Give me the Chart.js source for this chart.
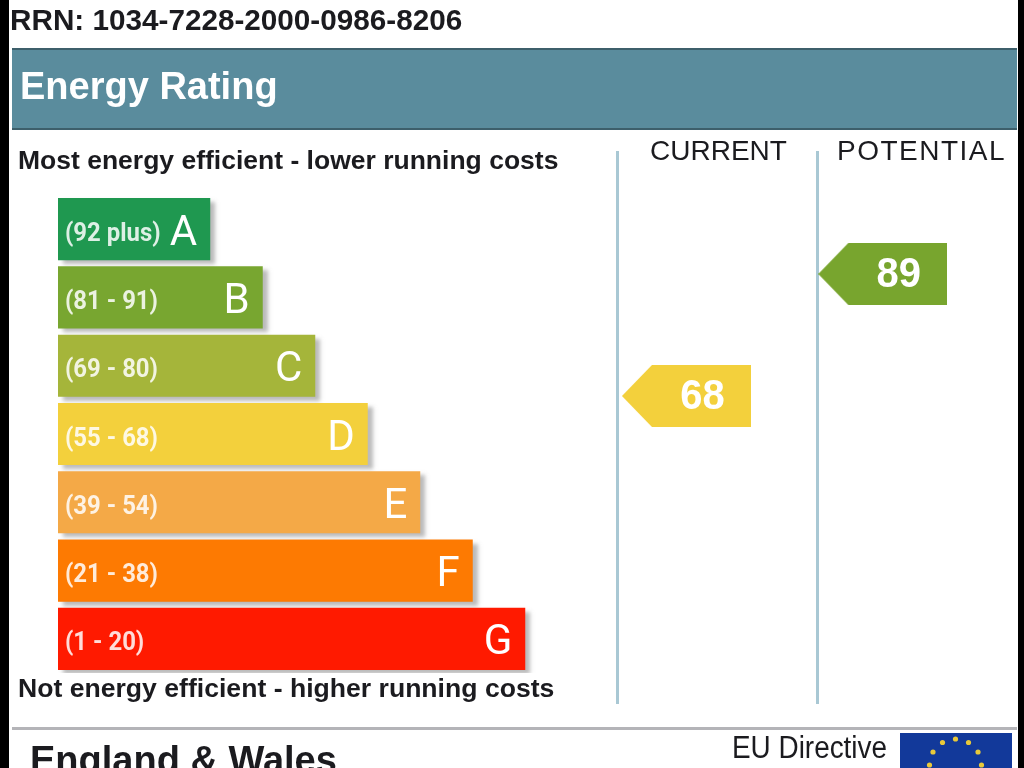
<!DOCTYPE html>
<html>
<head>
<meta charset="utf-8">
<title>Energy Rating</title>
<script src="https://cdn.jsdelivr.net/npm/chart.js@4"></script>
<style>
  html, body { margin: 0; padding: 0; width: 1024px; height: 768px; overflow: hidden; background: #000; }
  #page { position: absolute; left: 9px; top: 0; width: 1009px; height: 768px; background: #fff; overflow: hidden; }
  #header { position: absolute; left: 12px; top: 48px; width: 1005px; height: 82px; background: #5a8c9d;
    border-top: 2px solid #3d5f6b; border-bottom: 2px solid #3d5f6b; box-sizing: border-box; }
  #chart { position: absolute; left: 0; top: 0; }
  .t { position: absolute; font-family: "Liberation Sans", Arial, sans-serif; white-space: nowrap; color: #1b1b1f; line-height: 1; }
  .b { font-weight: bold; }
  .rule { position: absolute; top: 151px; width: 3px; height: 553px; background: #a9c8d4; }
  #footline { position: absolute; left: 12px; top: 727px; width: 1005px; height: 3px; background: #b4b4b8; }
  #flag { position: absolute; left: 900px; top: 733px; }
  #wrap { position: absolute; left: 0; top: 0; width: 1024px; height: 768px; filter: blur(0.5px); }
</style>
</head>
<body>
<div id="wrap">
<div id="page"></div>
<div id="header"></div>
<div id="footline"></div>
<div class="rule" style="left:616px"></div>
<div class="rule" style="left:816px"></div>
<canvas id="chart" width="1024" height="768"></canvas>

<div class="t b" style="left:10px;top:5px;font-size:29.7px">RRN: 1034-7228-2000-0986-8206</div>
<div class="t b" style="left:20px;top:67px;font-size:38px;color:#fff">Energy Rating</div>
<div class="t b" style="left:18px;top:147px;font-size:26.5px">Most energy efficient - lower running costs</div>
<div class="t b" style="left:18px;top:675px;font-size:26.6px">Not energy efficient - higher running costs</div>
<div class="t" style="left:650px;top:137px;font-size:28px">CURRENT</div>
<div class="t" style="left:837px;top:137px;font-size:28px;letter-spacing:1.5px">POTENTIAL</div>
<div class="t b" style="left:30px;top:741px;font-size:38px">England &amp; Wales</div>
<div class="t" style="left:732px;top:732px;font-size:31px;transform:scaleX(0.9);transform-origin:left top">EU Directive</div>
<svg id="flag" width="112" height="35"></svg>
</div>

<script>
const bands = ["A", "B", "C", "D", "E", "F", "G"];
const ranges = ["(92 plus)", "(81 - 91)", "(69 - 80)", "(55 - 68)", "(39 - 54)", "(21 - 38)", "(1 - 20)"];
const bandLengths = [29, 39, 49, 59, 69, 79, 89];
const bandColors = ["#1f9850", "#78a630", "#a5b53a", "#f3d03c", "#f4a947", "#fd7a02", "#ff1a00"];
const currentRating = [68];
const potentialRating = [89];
const columnLabels = ["CURRENT", "POTENTIAL"];

// arrow flag used as the point style, tip on the left
function arrowImage(color) {
  const c = document.createElement("canvas");
  c.width = 129;
  c.height = 62;
  const g = c.getContext("2d");
  g.fillStyle = color;
  g.beginPath();
  g.moveTo(0, 31);
  g.lineTo(30, 0);
  g.lineTo(129, 0);
  g.lineTo(129, 62);
  g.lineTo(30, 62);
  g.closePath();
  g.fill();
  return c;
}

const barShadow = {
  id: "barShadow",
  beforeDatasetDraw(chart, args) {
    if (args.index !== 0) return;
    const ctx = chart.ctx;
    ctx.save();
    ctx.shadowColor = "rgba(120,120,120,0.5)";
    ctx.shadowBlur = 4;
    ctx.shadowOffsetX = 5;
    ctx.shadowOffsetY = 4;
  },
  afterDatasetDraw(chart, args) {
    if (args.index === 0) chart.ctx.restore();
  },
};

// squeezed text, the source letters are taller than they are wide
function narrowText(ctx, text, x, y, squeeze) {
  ctx.save();
  ctx.translate(x, y);
  ctx.scale(squeeze, 1);
  ctx.fillText(text, 0, 0);
  ctx.restore();
}

const markText = {
  id: "markText",
  afterDatasetsDraw(chart) {
    const ctx = chart.ctx;
    ctx.save();
    ctx.textBaseline = "middle";
    chart.getDatasetMeta(0).data.forEach((bar, i) => {
      ctx.fillStyle = "rgba(255,255,255,0.85)";
      ctx.textAlign = "left";
      ctx.font = 'bold 26px Roboto';
      narrowText(ctx, ranges[i], 65, bar.y + 5, 0.92);
      ctx.fillStyle = "#fff";
      ctx.textAlign = "right";
      ctx.font = '42px Roboto';
      narrowText(ctx, bands[i], bar.x - 13, bar.y + 5, 1);
    });
    ctx.fillStyle = "#fff";
    ctx.textAlign = "center";
    ctx.font = 'bold 43px "Liberation Sans"';
    [1, 2].forEach((d) => {
      const pt = chart.getDatasetMeta(d).data[0];
      narrowText(ctx, chart.data.datasets[d].data[0].y, pt.x + 16, pt.y + 1, 0.93);
    });
    ctx.restore();
  },
};

new Chart(document.getElementById("chart"), {
  data: {
    labels: bands,
    datasets: [
      {
        type: "bar",
        indexAxis: "y",
        label: "Band",
        data: bandLengths,
        backgroundColor: bandColors,
        barPercentage: 0.91,
        categoryPercentage: 1,
        xAxisID: "x",
        yAxisID: "y",
      },
      {
        type: "scatter",
        label: columnLabels[0],
        data: [{ x: 119.7, y: currentRating[0] }],
        pointStyle: arrowImage("#f3d03c"),
        xAxisID: "x",
        yAxisID: "y2",
        clip: false,
      },
      {
        type: "scatter",
        label: columnLabels[1],
        data: [{ x: 157.1, y: potentialRating[0] }],
        pointStyle: arrowImage("#78a52e"),
        xAxisID: "x",
        yAxisID: "y2",
        clip: false,
      },
    ],
  },
  options: {
    responsive: false,
    devicePixelRatio: 1,
    animation: false,
    layout: { padding: { left: 58, right: 21, top: 195, bottom: 95 } },
    plugins: { legend: { display: false }, tooltip: { enabled: false } },
    scales: {
      x: { type: "linear", min: 0, max: 180, display: false },
      y: { type: "category", display: false },
      y2: { type: "linear", min: 20.3, max: 102.6, display: false },
    },
  },
  plugins: [barShadow, markText],
});

// EU flag stars
const flag = document.getElementById("flag");
let stars = '<rect width="112" height="35" fill="#12399a"/>';
for (let i = 0; i < 12; i++) {
  const a = (i * Math.PI) / 6;
  const sx = 55.5 + 26 * Math.sin(a);
  const sy = 32 - 26 * Math.cos(a);
  stars += '<circle cx="' + sx + '" cy="' + sy + '" r="2.6" fill="#e8c93a"/>';
}
flag.innerHTML = stars;
</script>
</body>
</html>
